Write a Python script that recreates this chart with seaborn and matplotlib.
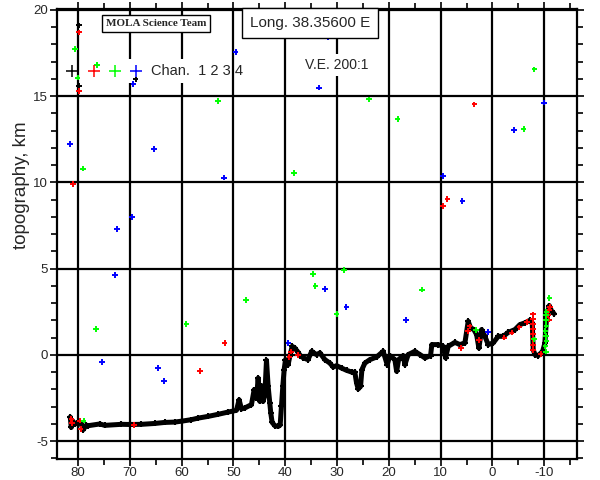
import numpy as np
import pandas as pd
import matplotlib
matplotlib.use("Agg")
import matplotlib.pyplot as plt
import seaborn as sns
from matplotlib.patches import Rectangle

# along-track profile (latitude, topography km)
prof_lat = [81.5, 81.3, 81.1, 80.6, 80.2, 79.8, 79.4, 79.0, 78.4, 78.06, 75.8, 74.84,
            71.62, 69.89, 67.76, 65.19, 63.26, 61.33, 59.84, 58.11, 56.82, 54.89, 52.96,
            51.03, 49.42, 48.9, 48.45, 47.81, 46.52, 46.0, 45.55, 45.23, 44.91, 44.59,
            44.27, 43.94, 43.62, 43.3, 42.98, 42.79, 42.53, 42.01, 41.37, 40.98, 40.73,
            40.47, 40.21, 39.95, 39.44, 39.12, 38.66, 38.15, 37.51, 37.1, 36.5, 35.6,
            34.9, 33.96, 33.3, 32.35, 31.39, 30.75, 30.1, 29.13, 28.17, 27.2, 26.56,
            26.24, 25.92, 25.46, 25.2, 24.63, 23.66, 22.37, 21.1, 20.32, 19.8, 18.84,
            18.5, 18.12, 17.23, 16.9, 16.27, 14.98, 14.0, 13.04, 11.95, 11.7, 10.48,
            9.51, 9.05, 8.54, 7.25, 6.28, 5.32, 4.68, 4.22, 3.58, 3.06, 2.62, 2.1, 1.46,
            0.82, -0.15, -1.11, -2.08, -3.04, -4.34, -5.3, -6.27, -7.23, -7.68, -7.87,
            -8.2, -8.84, -9.69, -10.13, -10.46, -10.97, -11.43, -11.87]
prof_elev = [-3.6, -4.2, -3.8, -4.0, -3.95, -3.9, -4.0, -4.33, -4.07, -4.1, -4.0, -4.08,
             -4.02, -4.03, -4.02, -3.97, -3.91, -3.89, -3.83, -3.75, -3.66, -3.56, -3.44,
             -3.31, -3.21, -2.6, -3.13, -3.07, -2.88, -2.01, -2.5, -1.34, -2.69, -1.78,
             -2.69, -2.3, -0.31, -1.82, -2.79, -3.37, -3.91, -4.1, -4.14, -4.06, -2.98,
             -1.82, -0.85, -0.27, -0.56, -0.08, 0.5, 0.4, 0.15, -0.04, -0.17, -0.27,
             0.21, 0.02, 0.12, -0.27, -0.47, -0.7, -0.62, -0.76, -0.89, -0.99, -1.01,
             -1.62, -1.97, -1.82, -0.85, -0.47, -0.27, -0.12, 0.21, -0.56, -0.04, -0.27,
             -0.95, -0.27, -0.04, -0.56, 0.02, 0.21, 0.02, -0.17, -0.04, 0.6, 0.6,
             0.5, -0.17, 0.5, 0.73, 0.6, 0.7, 1.95, 1.57, 1.47, 1.18, 0.4, 1.47, 1.08,
             0.6, 0.7, 1.08, 1.08, 1.31, 1.47, 1.76, 1.86, 2.01, 1.86, 0.31,
             0.02, -0.04, 0.21, 0.7, 2.24, 2.86, 2.53, 2.4]

# channel 1 (black) off-profile returns
ch1_lat = [79.8, 79.8, 68.9]
ch1_elev = [19.1, 15.6, 15.97]

# channel 2 (red)
ch2_lat = [79.8, 79.8, 81.0, 56.5, 51.7, 69.2, 3.5, 8.7, 9.6, 81.2, 81.3, 79.6, 79.5,
           39.2, 38.9, 37.5, 6.1, 4.7, 4.4, 2.6, -2.3, -3.7, -5.2, -6.7,
           -7.8, -7.8, -7.8, -7.8, -7.8, -7.8, -7.8, -7.8, -9.3,
           -10.8, -11.0, -11.1, -10.9]
ch2_elev = [18.7, 15.3, 9.92, -0.93, 0.7, -4.06, 14.52, 9.05, 8.64, -3.95, -3.7, -3.8, -4.3,
            -0.12, 0.2, 0.0, 0.4, 1.38, 1.65, 0.87, 1.0, 1.3, 1.6, 1.9,
            2.35, 2.1, 1.8, 1.5, 1.2, 0.9, 0.6, 0.3, 0.04,
            2.3, 2.6, 2.8, 2.05]

# channel 3 (green)
ch3_lat = [80.6, 76.3, 80.1, 53.0, 79.0, 38.3, 23.8, 18.3, -6.0, -8.1, 34.6, 34.2, 47.6,
           59.1, 76.5, 28.7, 13.6, 30.1, -11.0, 78.9, 3.2, -8.0,
           -10.3, -10.2, -10.4, -10.3, -10.2, -10.4, -10.3, -10.3, -10.4]
ch3_elev = [17.75, 16.8, 16.07, 14.73, 10.8, 10.56, 14.81, 13.69, 13.1, 16.55, 4.7, 4.0, 3.19,
            1.78, 1.5, 4.93, 3.79, 2.38, 3.3, -3.8, 1.45, 0.9,
            0.2, 0.5, 0.8, 1.1, 1.4, 1.7, 2.0, 2.3, 2.5]

# channel 4 (blue)
ch4_lat = [49.6, 69.3, 81.5, 65.3, 31.8, 33.5, -4.2, -9.9, 51.8, 69.6, 72.5, 72.85, 9.5,
           5.8, 32.3, 28.2, 16.7, 0.9, 75.4, 64.6, 63.4, 39.4]
ch4_elev = [17.57, 15.72, 12.24, 11.95, 18.39, 15.49, 13.05, 14.63, 10.28, 8.0, 7.3, 4.64,
            10.38, 8.93, 3.83, 2.78, 2.03, 1.33, -0.41, -0.75, -1.51, 0.7]

chan_colors = {"1": "black", "2": "#ff0000", "3": "#00ff00", "4": "#0000ff"}

profile = pd.DataFrame({"lat": prof_lat, "elev": prof_elev})
noise = pd.concat([
    pd.DataFrame({"lat": ch1_lat, "elev": ch1_elev, "chan": "1"}),
    pd.DataFrame({"lat": ch2_lat, "elev": ch2_elev, "chan": "2"}),
    pd.DataFrame({"lat": ch3_lat, "elev": ch3_elev, "chan": "3"}),
    pd.DataFrame({"lat": ch4_lat, "elev": ch4_elev, "chan": "4"}),
], ignore_index=True)

sns.set_style("white")
plt.rcParams["font.family"] = ["Liberation Sans", "DejaVu Sans"]
plt.rcParams["axes.unicode_minus"] = False

fig = plt.figure(figsize=(6, 4.8), dpi=100)
ax = fig.add_axes([0.0955, 0.04375, 0.866, 0.9374])

sns.lineplot(data=profile, x="lat", y="elev", sort=False, estimator=None, color="black",
             lw=3.6, marker="+", markersize=5, markeredgewidth=1.5, markeredgecolor="black",
             ax=ax, zorder=4)
sns.scatterplot(data=noise, x="lat", y="elev", hue="chan", palette=chan_colors,
                marker="+", s=16, linewidth=1.4, legend=False, ax=ax, zorder=5)

ax.set_xlim(84.0, -16.3)
ax.set_ylim(-6.03, 20.05)
ax.set_xticks([80, 70, 60, 50, 40, 30, 20, 10, 0, -10])
ax.set_xticks([75, 65, 55, 45, 35, 25, 15, 5, -5, -15], minor=True)
ax.set_yticks([-5, 0, 5, 10, 15, 20])
ax.set_yticks(list(range(-6, 20)), minor=True)
ax.set_xlabel("")
ax.set_ylabel("")
ax.grid(True, which="major", color="black", lw=1.6)
ax.tick_params(which="both", direction="out", top=True, right=True, bottom=True, left=True,
               labeltop=False, labelright=False, color="black", width=1.2, labelsize=9.5)
ax.tick_params(which="major", length=5, pad=1.5)
ax.tick_params(axis="x", which="major", pad=0.5)
ax.tick_params(which="minor", length=4)
for sp in ax.spines.values():
    sp.set_color("black")
    sp.set_linewidth(1.6)

fig.text(21.5 / 600, 1 - 185 / 480, "topography, km", rotation=90, ha="center",
         va="center", fontsize=13.5)

# annotation boxes
ax.text(0.19, 0.9687, "MOLA Science Team", transform=ax.transAxes, ha="center", va="center",
        fontsize=8, family="Liberation Serif", weight="bold", zorder=6,
        bbox=dict(boxstyle="square,pad=0.35", fc="white", ec="black", lw=1))
ax.text(0.486, 0.969, "Long. 38.35600 E", transform=ax.transAxes, ha="center", va="center",
        fontsize=11, zorder=6,
        bbox=dict(boxstyle="square,pad=0.5", fc="white", ec="black", lw=1))
ax.text(0.537, 0.8755, "V.E. 200:1", transform=ax.transAxes, ha="center", va="center",
        fontsize=10, zorder=6, bbox=dict(boxstyle="square,pad=0.3", fc="white", ec="none"))

# channel key
ax.add_patch(Rectangle((0.052, 0.8357), 0.25, 0.053, transform=ax.transAxes, fc="white",
                       ec="none", zorder=3))
for xk, c in zip([0.0283, 0.0700, 0.1110, 0.1520], chan_colors.values()):
    ax.plot([xk], [0.863], transform=ax.transAxes, marker="+", ms=8, mew=1.1, color=c,
            zorder=6, clip_on=False)
ax.text(0.180, 0.863, "Chan.  1 2 3 4", transform=ax.transAxes, ha="left", va="center",
        fontsize=10.5, zorder=6)

fig.savefig("out.png", dpi=100)
